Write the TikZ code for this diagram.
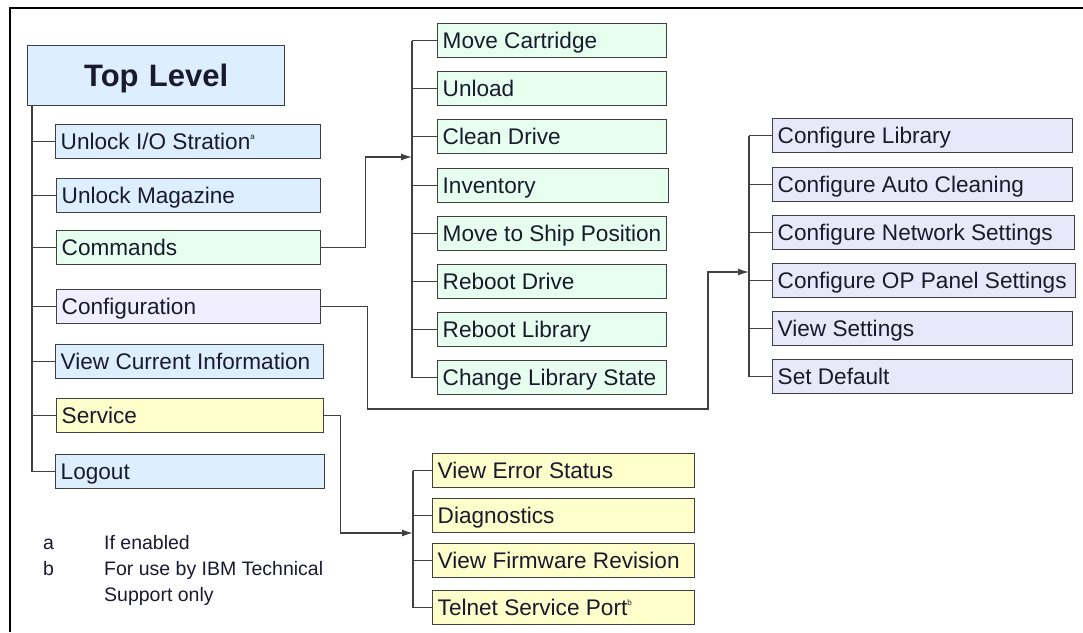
\documentclass[tikz,border=0pt]{standalone}
\usepackage{fontspec}
\setmainfont{Liberation Sans}
\usetikzlibrary{arrows.meta,calc}

\definecolor{topblue}{HTML}{DDEEFF}
\definecolor{cmdgreen}{HTML}{E6FFEE}
\definecolor{cfglilac}{HTML}{F1EEFF}
\definecolor{svcyellow}{HTML}{FFFFCC}
\definecolor{subblue}{HTML}{E8E8FA}
\definecolor{edge}{HTML}{404040}
\definecolor{ink}{HTML}{1A1A2E}

\newcommand{\fnmark}[1]{\raisebox{10pt}{\fontsize{8}{8}\selectfont #1}}

\begin{document}
\begin{tikzpicture}[x=1pt,y=-1pt,
  frame/.style={draw=black,line width=1.5pt},
  wire/.style={draw=edge,line width=1.4pt},
  link/.style={wire,-{Latex[length=11pt,width=7pt]}},
  menu/.style={draw=edge,line width=1.4pt,anchor=north west,minimum height=34pt,
    inner xsep=5pt,inner ysep=0pt,text width=#1,align=flush left,
    text height=16pt,text depth=0pt,font=\fontsize{22.6}{26}\selectfont,text=ink},
  note/.style={anchor=base west,inner sep=0pt,font=\fontsize{19.5}{22}\selectfont,text=ink},
]
\useasboundingbox (0,0) rectangle (1083,632);
\draw[frame] (10,632) -- (10,8) -- (1083,8);

% top level menu
\node[menu=247,fill=topblue,minimum height=60pt,align=center,text height=22pt,
  font=\fontsize{31}{36}\selectfont\bfseries] (top) at (27,45) {Top Level};
\node[menu=255,fill=topblue] (io) at (55,124) {Unlock I/O Stration\fnmark{a}};
\node[menu=254,fill=topblue] (mag) at (56,178) {Unlock Magazine};
\node[menu=254,fill=cmdgreen] (cmd) at (56,230) {Commands};
\node[menu=254,fill=cfglilac] (cfg) at (56,289) {Configuration};
\node[menu=258,fill=topblue] (info) at (55,344) {View Current Information};
\node[menu=257,fill=svcyellow] (svc) at (56,398) {Service};
\node[menu=259,fill=topblue] (logout) at (55,454) {Logout};

\coordinate (stem) at (32,105);
\draw[wire] (stem) |- (logout.west);
\foreach \n in {io,mag,cmd,cfg,info,svc}
  \draw[wire] (stem |- \n.west) -- (\n.west);

% commands
\node[menu=219,fill=cmdgreen] (move) at (437,23) {Move Cartridge};
\node[menu=219,fill=cmdgreen] (unload) at (437,71) {Unload};
\node[menu=219,fill=cmdgreen] (clean) at (437,119) {Clean Drive};
\node[menu=221,fill=cmdgreen] (inv) at (437,168) {Inventory};
\node[menu=219,fill=cmdgreen] (ship) at (437,216) {Move to Ship Position};
\node[menu=219,fill=cmdgreen] (rbdrive) at (437,264) {Reboot Drive};
\node[menu=219,fill=cmdgreen] (rblib) at (437,312) {Reboot Library};
\node[menu=219,fill=cmdgreen] (state) at (437,360) {Change Library State};

\coordinate (cmdhub) at (412,157);
\draw[wire] (cmdhub |- move.west) -- (cmdhub |- state.west);
\foreach \n in {move,unload,clean,inv,ship,rbdrive,rblib,state}
  \draw[wire] (cmdhub |- \n.west) -- (\n.west);
\draw[link] (cmd.east) -- ++(44,0) |- (cmdhub);

% configuration
\node[menu=290,fill=subblue] (cfglib) at (772,118) {Configure Library};
\node[menu=290,fill=subblue] (clean2) at (772,167) {Configure Auto Cleaning};
\node[menu=292,fill=subblue] (net) at (772,215) {Configure Network Settings};
\node[menu=293,fill=subblue] (panel) at (772,263) {Configure OP Panel Settings};
\node[menu=290,fill=subblue] (view) at (772,311) {View Settings};
\node[menu=290,fill=subblue] (dflt) at (772,359) {Set Default};

\coordinate (cfghub) at (749,272);
\draw[wire] (cfghub |- cfglib.west) -- (cfghub |- dflt.west);
\foreach \n in {cfglib,clean2,net,panel,view,dflt}
  \draw[wire] (cfghub |- \n.west) -- (\n.west);
\draw[link] (cfg.east) -- ++(46,0) |- (708,409) |- (cfghub);

% service
\node[menu=252,fill=svcyellow] (err) at (432,453) {View Error Status};
\node[menu=252,fill=svcyellow] (diag) at (432,498) {Diagnostics};
\node[menu=252,fill=svcyellow] (fw) at (432,543) {View Firmware Revision};
\node[menu=252,fill=svcyellow] (telnet) at (432,590) {Telnet Service Port\fnmark{b}};

\coordinate (svchub) at (413,533);
\draw[wire] (svchub |- err.west) -- (svchub |- telnet.west);
\foreach \n in {err,diag,fw,telnet}
  \draw[wire] (svchub |- \n.west) -- (\n.west);
\draw[link] (svc.east) -- ++(16,0) |- (svchub);

% footnotes
\node[note] (keya) at (43,549) {a};
\node[note] (texta) at (104,549) {If enabled};
\node[note] (keyb) at (43,575) {b};
\node[note] (textb) at (104,575) {For use by IBM Technical};
\node[note] (textb2) at (104,601) {Support only};

\end{tikzpicture}
\end{document}
